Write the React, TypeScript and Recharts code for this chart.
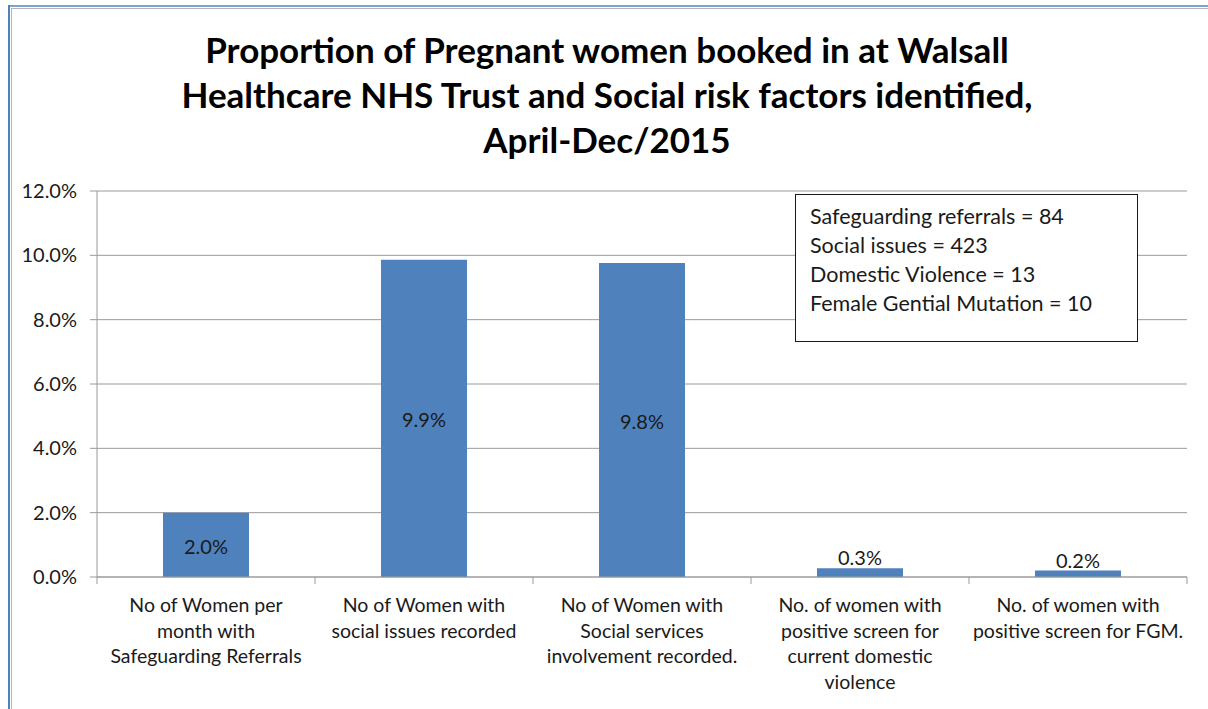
import { BarChart, Bar, XAxis, YAxis, CartesianGrid, LabelList } from "recharts";

const categories = [
  "No of Women per\nmonth with\nSafeguarding Referrals",
  "No of Women with\nsocial issues recorded",
  "No of Women with\nSocial services\ninvolvement recorded.",
  "No. of women  with\npositive screen for\ncurrent domestic\nviolence",
  "No. of women  with\npositive screen for FGM.",
];
const proportions = [0.02, 0.0986, 0.0976, 0.0027, 0.002];
const yTicks = [0, 0.02, 0.04, 0.06, 0.08, 0.1, 0.12];
const titleLines = [
  "Proportion of Pregnant women booked in at Walsall",
  "Healthcare NHS Trust and Social risk factors identified,",
  "April-Dec/2015",
];
const noteLines = [
  "Safeguarding referrals = 84",
  "Social issues = 423",
  "Domestic Violence = 13",
  "Female Gential Mutation = 10",
];

const chartData = categories.map((name, i) => ({ name, value: proportions[i] }));

const FONT = "Lato, 'Open Sans', sans-serif";
const GRID = "#9a9a9a";
const INK = "#1a1a1a";

const pct = (v: number) => `${(v * 100).toFixed(1)}%`;

// category label plus the short tick marks that sit on the category edges
function CategoryTick(props: any) {
  const { x, y, payload, index } = props;
  const half = payload.offset || 109;
  const lines = String(payload.value).split("\n");
  const last = index === categories.length - 1;
  return (
    <g>
      <line x1={x - half} x2={x - half} y1={y} y2={y + 7} stroke={GRID} />
      {last && <line x1={x + half} x2={x + half} y1={y} y2={y + 7} stroke={GRID} />}
      <text x={x} y={y} textAnchor="middle" fontSize={19.5} fontFamily={FONT} fill={INK}>
        {lines.map((line, i) => (
          <tspan key={i} x={x} dy={i === 0 ? 35 : 25.7}>
            {line}
          </tspan>
        ))}
      </text>
    </g>
  );
}

function ValueLabel(props: any) {
  const { x, y, width, height, value } = props;
  const inside = height > 30;
  return (
    <text
      x={x + width / 2}
      y={inside ? y + height / 2 + 1 : y - 11}
      textAnchor="middle"
      dominantBaseline="central"
      fontSize={20}
      fontFamily={FONT}
      fill={INK}
    >
      {pct(value)}
    </text>
  );
}

export default function App() {
  return (
    <div
      style={{
        position: "absolute",
        left: 0,
        top: 0,
        width: 1208,
        height: 709,
        overflow: "hidden",
        background: "#fff",
        fontFamily: FONT,
      }}
    >
      {/* frame of the original chart object, cut off on the right and bottom */}
      <div style={{ position: "absolute", left: 8, top: 5, width: 1200, height: 2, background: "#7fa1cf" }} />
      <div style={{ position: "absolute", left: 8, top: 5, width: 2, height: 704, background: "#4f81bd" }} />
      <div style={{ position: "absolute", left: 11, top: 8, width: 1197, height: 1, background: "#b5b5b5" }} />
      <div style={{ position: "absolute", left: 11, top: 8, width: 1, height: 701, background: "#b5b5b5" }} />

      <div
        style={{
          position: "absolute",
          left: 0,
          top: 27,
          width: 1208,
          paddingLeft: 6,
          boxSizing: "border-box",
          textAlign: "center",
          fontWeight: 700,
          fontSize: 35,
          lineHeight: "45px",
          color: "#000",
        }}
      >
        {titleLines.map((t, i) => (
          <div key={i}>{t}</div>
        ))}
      </div>

      <div style={{ position: "absolute", left: 0, top: 0 }}>
        <BarChart
          width={1208}
          height={709}
          data={chartData}
          margin={{ top: 191, right: 21, bottom: 0, left: 0 }}
          barSize={86}
        >
          <CartesianGrid vertical={false} stroke={GRID} />
          <XAxis
            dataKey="name"
            height={132}
            interval={0}
            axisLine={{ stroke: GRID }}
            tickLine={false}
            tickSize={0}
            tickMargin={0}
            tick={<CategoryTick />}
          />
          <YAxis
            width={97}
            domain={[0, 0.12]}
            ticks={yTicks}
            tickFormatter={pct}
            axisLine={{ stroke: GRID }}
            tickLine={{ stroke: GRID }}
            tickSize={7}
            tickMargin={13}
            tick={{ fontSize: 20, fontFamily: FONT, fill: INK }}
          />
          <Bar dataKey="value" fill="#4f81bd" isAnimationActive={false}>
            <LabelList dataKey="value" content={<ValueLabel />} />
          </Bar>
        </BarChart>
      </div>

      <div
        style={{
          position: "absolute",
          left: 795,
          top: 194,
          width: 343,
          height: 148,
          border: "1px solid #1a1a1a",
          background: "#fff",
          padding: "7px 0 0 14px",
          boxSizing: "border-box",
          fontSize: 21.5,
          lineHeight: "29px",
          color: INK,
          whiteSpace: "nowrap",
        }}
      >
        {noteLines.map((t, i) => (
          <div key={i}>{t}</div>
        ))}
      </div>
    </div>
  );
}
